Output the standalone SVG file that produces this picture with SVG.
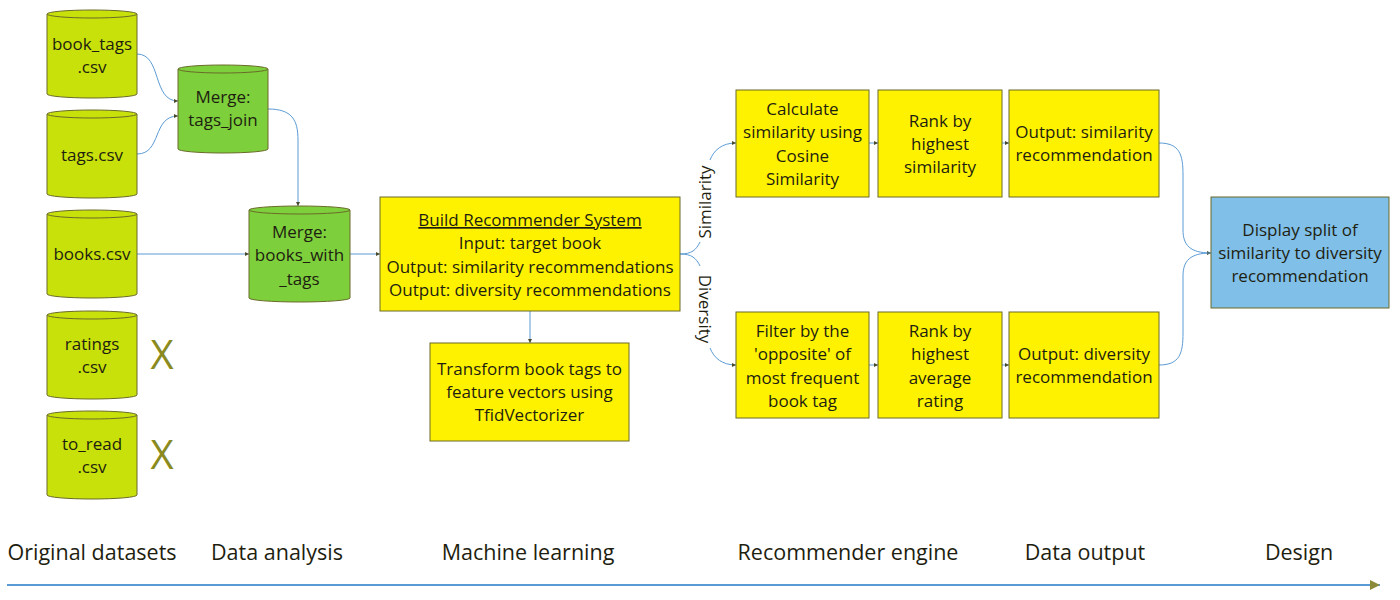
<svg xmlns="http://www.w3.org/2000/svg" width="1400" height="600" viewBox="0 0 1400 600">
<defs>
<style>
text{font-family:"Open Sans","Noto Sans","Liberation Sans",sans-serif;fill:#1e1e10;text-anchor:middle}
.t{font-size:17px}
.lab{font-size:21.5px}
.cyl1{fill:#c8e10a;stroke:#6b6b2a;stroke-width:1}
.cyl2{fill:#7dcf3c;stroke:#6b6b2a;stroke-width:1}
.box{fill:#fff200;stroke:#6b6b2a;stroke-width:1}
.blue{fill:#80bfe8;stroke:#6b6b2a;stroke-width:1}
.c{fill:none;stroke:#5b9bd5;stroke-width:1;marker-end:url(#a)}
.cn{fill:none;stroke:#5b9bd5;stroke-width:1}
.x{font-size:40px;fill:#8a8a1e}
</style>
<marker id="a" viewBox="0 0 6 6" refX="6" refY="3" markerWidth="4" markerHeight="4" orient="auto"><path d="M0,0 L6,3 L0,6 Z" fill="#4a4a2a"/></marker>
<marker id="b" viewBox="0 0 10 10" refX="10" refY="5" markerWidth="10" markerHeight="10" markerUnits="userSpaceOnUse" orient="auto"><path d="M0,0 L10,5 L0,10 Z" fill="#8a8a3a"/></marker>
</defs>

<g id="connectors">
<path class="c" d="M137,54 C162,54 152,101 178,101"/>
<path class="c" d="M137,154 C162,154 152,116 178,116"/>
<path class="c" d="M268,109 C292,109 298,120 298,140 L298,206"/>
<path class="c" d="M137,254 L249,254"/>
<path class="c" d="M350,254 L380,254"/>
<path class="c" d="M530,311 L530,343"/>
<path class="cn" d="M680,254 C692,254 696,250 700,242"/>
<path class="c" d="M710,160 C714,150 722,143 736,143"/>
<path class="cn" d="M680,254 C692,254 696,258 700,266"/>
<path class="c" d="M710,348 C714,358 722,365 736,365"/>
<path class="c" d="M869,143 L878,143"/>
<path class="c" d="M1002,143 L1009,143"/>
<path class="c" d="M869,365 L878,365"/>
<path class="c" d="M1002,365 L1009,365"/>
<path class="c" d="M1159,143 C1180,143 1183,155 1183,175 L1183,230 C1183,245 1190,253 1211,253"/>
<path class="cn" d="M1159,365 C1180,365 1183,353 1183,333 L1183,276 C1183,261 1190,253 1211,253"/>
<text class="t" transform="translate(711,202) rotate(-90)">Similarity</text>
<text class="t" transform="translate(699,309) rotate(90)">Diversity</text>
</g>

<g id="book_tags">
<path class="cyl1" d="M47,14 A45,4 0 0 1 137,14 V94 A45,4 0 0 1 47,94 Z"/>
<path class="cyl1" d="M47,14 A45,4 0 0 0 137,14" fill="none"/>
<text class="t" x="92" y="50">book_tags</text>
<text class="t" x="92" y="73">.csv</text>
</g>
<g id="tags">
<path class="cyl1" d="M47,114 A45,4 0 0 1 137,114 V194 A45,4 0 0 1 47,194 Z"/>
<path class="cyl1" d="M47,114 A45,4 0 0 0 137,114" fill="none"/>
<text class="t" x="92" y="161">tags.csv</text>
</g>
<g id="books">
<path class="cyl1" d="M47,214 A45,4 0 0 1 137,214 V294 A45,4 0 0 1 47,294 Z"/>
<path class="cyl1" d="M47,214 A45,4 0 0 0 137,214" fill="none"/>
<text class="t" x="92" y="260">books.csv</text>
</g>
<g id="ratings">
<path class="cyl1" d="M47,315 A45,4 0 0 1 137,315 V395 A45,4 0 0 1 47,395 Z"/>
<path class="cyl1" d="M47,315 A45,4 0 0 0 137,315" fill="none"/>
<text class="t" x="92" y="350">ratings</text>
<text class="t" x="92" y="373">.csv</text>
<text class="x" x="162" y="369">X</text>
</g>
<g id="to_read">
<path class="cyl1" d="M47,415 A45,4 0 0 1 137,415 V495 A45,4 0 0 1 47,495 Z"/>
<path class="cyl1" d="M47,415 A45,4 0 0 0 137,415" fill="none"/>
<text class="t" x="92" y="450">to_read</text>
<text class="t" x="92" y="473">.csv</text>
<text class="x" x="162" y="469">X</text>
</g>
<g id="tags_join">
<path class="cyl2" d="M178,69 A45,4 0 0 1 268,69 V149 A45,4 0 0 1 178,149 Z"/>
<path class="cyl2" d="M178,69 A45,4 0 0 0 268,69" fill="none"/>
<text class="t" x="223" y="103">Merge:</text>
<text class="t" x="223" y="126">tags_join</text>
</g>
<g id="books_with_tags">
<path class="cyl2" d="M249,210 A50.5,4 0 0 1 350,210 V298 A50.5,4 0 0 1 249,298 Z"/>
<path class="cyl2" d="M249,210 A50.5,4 0 0 0 350,210" fill="none"/>
<text class="t" x="299.500" y="238">Merge:</text>
<text class="t" x="299.500" y="261">books_with</text>
<text class="t" x="299.500" y="285">_tags</text>
</g>
<g id="build">
<rect class="box" x="380" y="197" width="300" height="114"/>
<text class="t" x="530" y="226" text-decoration="underline">Build Recommender System</text>
<text class="t" x="530" y="249">Input: target book</text>
<text class="t" x="530" y="273">Output: similarity recommendations</text>
<text class="t" x="530" y="296">Output: diversity recommendations</text>
</g>
<g id="transform">
<rect class="box" x="430" y="343" width="199" height="98"/>
<text class="t" x="529.500" y="375">Transform book tags to</text>
<text class="t" x="529.500" y="398">feature vectors using</text>
<text class="t" x="529.500" y="421">TfidVectorizer</text>
</g>
<g id="calculate">
<rect class="box" x="736" y="90" width="133" height="107"/>
<text class="t" x="802.500" y="115">Calculate</text>
<text class="t" x="802.500" y="138">similarity using</text>
<text class="t" x="802.500" y="162">Cosine</text>
<text class="t" x="802.500" y="185">Similarity</text>
</g>
<g id="rank_sim">
<rect class="box" x="878" y="90" width="124" height="107"/>
<text class="t" x="940" y="127">Rank by</text>
<text class="t" x="940" y="150">highest</text>
<text class="t" x="940" y="173">similarity</text>
</g>
<g id="out_sim">
<rect class="box" x="1009" y="90" width="150" height="107"/>
<text class="t" x="1084" y="138">Output: similarity</text>
<text class="t" x="1084" y="161">recommendation</text>
</g>
<g id="filter">
<rect class="box" x="736" y="312" width="133" height="106"/>
<text class="t" x="802.500" y="337">Filter by the</text>
<text class="t" x="802.500" y="360">'opposite' of</text>
<text class="t" x="802.500" y="384">most frequent</text>
<text class="t" x="802.500" y="407">book tag</text>
</g>
<g id="rank_avg">
<rect class="box" x="878" y="312" width="124" height="106"/>
<text class="t" x="940" y="337">Rank by</text>
<text class="t" x="940" y="360">highest</text>
<text class="t" x="940" y="384">average</text>
<text class="t" x="940" y="407">rating</text>
</g>
<g id="out_div">
<rect class="box" x="1009" y="312" width="150" height="106"/>
<text class="t" x="1084" y="360">Output: diversity</text>
<text class="t" x="1084" y="383">recommendation</text>
</g>
<g id="display">
<rect class="blue" x="1211" y="197" width="178" height="111"/>
<text class="t" x="1300" y="236">Display split of</text>
<text class="t" x="1300" y="259">similarity to diversity</text>
<text class="t" x="1300" y="282">recommendation</text>
</g>
<g id="timeline">
<line x1="7" y1="585" x2="1380" y2="585" stroke="#5b9bd5" stroke-width="2" marker-end="url(#b)"/>
<text class="lab" x="92" y="560">Original datasets</text>
<text class="lab" x="277" y="560">Data analysis</text>
<text class="lab" x="528" y="560">Machine learning</text>
<text class="lab" x="848" y="560">Recommender engine</text>
<text class="lab" x="1085" y="560">Data output</text>
<text class="lab" x="1299" y="560">Design</text>
</g>
</svg>
